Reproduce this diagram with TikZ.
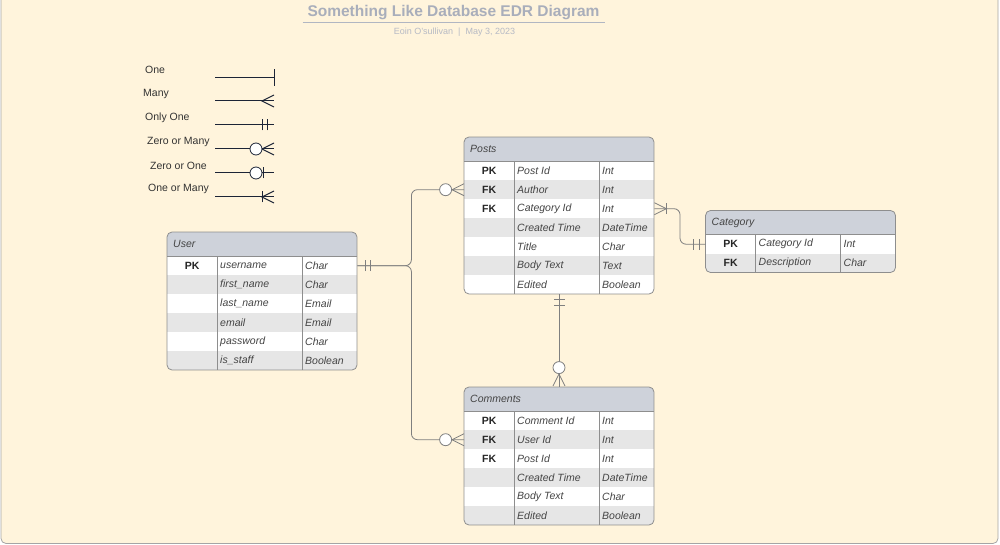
\documentclass[tikz,border=0pt]{standalone}
\usepackage{fontspec}
\setmainfont{Liberation Sans}
\usetikzlibrary{positioning}

\definecolor{kertas}{HTML}{FFF4DC}
\definecolor{tepi}{HTML}{8E8E8E}
\definecolor{kepala}{HTML}{CED2DA}
\definecolor{abu}{HTML}{E6E6E6}
\definecolor{garis}{HTML}{7F7F7F}
\definecolor{teks}{HTML}{444444}
\definecolor{judul}{HTML}{A9AEBB}
\definecolor{navy}{HTML}{1C2436}

\tikzset{
  x=1pt, y=-1pt,
  baris/.style={inner sep=0pt, minimum width=190pt, minimum height=19pt, anchor=north west},
  kunci/.style={inner sep=0pt, minimum width=50pt, font=\fontsize{10.5}{12}\selectfont\bfseries, text=black!85},
  isian/.style={inner sep=0pt, anchor=west, font=\fontsize{10.5}{12}\selectfont\itshape, text=teks},
  tautan/.style={draw=garis, line width=0.8pt},
  tautpic/.style={color=garis, line width=0.8pt},
  lingkaran/.style={circle, draw=garis, fill=white, line width=0.8pt, minimum size=12pt, inner sep=0pt},
  legenda/.style={anchor=west, inner sep=0pt, font=\fontsize{10.5}{12}\selectfont, text=black!80},
  palang/.pic={\draw (0,-5.5pt) -- (0,5.5pt);},
  cakar/.pic={\draw (12pt,6pt) -- (0,0) -- (12pt,-6pt);},
}

% tabel: #1 nama, #2 x, #3 y, #4 judul, #5 jumlah baris, #6 isi
\newcommand\tabelerd[6]{%
  \begin{scope}
    \clip[rounded corners=5pt] (#2,#3) rectangle ++(190,24+19*#5);
    \fill[kepala] (#2,#3) rectangle ++(190,24);
    \foreach \kk/\nm/\ty [count=\i] in {#6} {
      \ifodd\i\relax\def\warna{white}\else\def\warna{abu}\fi
      \node[baris, fill=\warna] (#1-\i) at (#2,{#3+24+19*(\i-1)}) {};
      \node[kunci, right=0pt of #1-\i.west] (#1-k\i) {\kk};
      \node[isian] (#1-n\i) at ([xshift=53pt]#1-\i.west) {\nm};
      \node[isian] (#1-t\i) at ([xshift=138pt]#1-\i.west) {\ty};
    }
  \end{scope}
  \node[isian] (#1-judul) at (#2+6,#3+12) {#4};
  \coordinate (#1-atas) at (#2+95,#3);
  \coordinate (#1-bawah) at (#2+95,#3+24+19*#5);
  \draw[tepi, line width=0.8pt] (#2+50,#3+24) -- ++(0,19*#5) (#2+135,#3+24) -- ++(0,19*#5) (#2,#3+24) -- ++(190,0);
  \draw[tepi, line width=0.8pt, rounded corners=5pt] (#2,#3) rectangle ++(190,24+19*#5);
}

\begin{document}
\begin{tikzpicture}
    \useasboundingbox (0,0) rectangle (1000,545);
    % latar
    \draw[fill=kertas, draw=tepi!80, line width=0.8pt, rounded corners=5pt] (1,-10) rectangle (998,543.5);

    % judul
    \node[font=\fontsize{15.5}{18}\selectfont\bfseries, text=judul, inner sep=0pt] (judul) at (453.5,12.5) {Something Like Database EDR Diagram};
    \draw[judul!90, line width=1.8pt] (302.5,22.5) -- (604.5,22.5);
    \node[font=\fontsize{9}{11}\selectfont, text=judul!85, inner sep=0pt] (penulis) at (454.5,32) {Eoin O'sullivan \ | \ May 3, 2023};

    % legenda
    \node[legenda] (lg-one) at (145,70) {One};
    \node[legenda] (lg-many) at (143,94) {Many};
    \node[legenda] (lg-only) at (145,117.5) {Only One};
    \node[legenda] (lg-zmany) at (147,141.5) {Zero or Many};
    \node[legenda] (lg-zone) at (150,166) {Zero or One};
    \node[legenda] (lg-omany) at (148,189) {One or Many};
    \begin{scope}[color=navy, line width=1pt]
      \draw (215,78) -- (274,78) (274,69.5) -- (274,86);
      \draw (215,101) -- (274,101); \pic at (262,101) {cakar};
      \draw (215,125) -- (274,125); \pic at (262,125) {palang}; \pic at (267,125) {palang};
      \draw (215,149) -- (274,149); \pic at (262,149) {cakar};
      \node[lingkaran, draw=navy] (lg-o1) at (256,149) {};
      \draw (215,173) -- (274,173); \pic at (263.5,173) {palang};
      \node[lingkaran, draw=navy] (lg-o2) at (256,173) {};
      \draw (215,197) -- (274,197); \pic at (262,197) {palang}; \pic at (262,197) {cakar};
    \end{scope}

    % tabel-tabel
    \tabelerd{user}{167}{232}{User}{6}{PK/username/Char, /first\_name/Char, /last\_name/Email, /email/Email, /password/Char, /is\_staff/Boolean}
    \tabelerd{posts}{464}{137}{Posts}{7}{PK/Post Id/Int, FK/Author/Int, FK/Category Id/Int, /Created Time/DateTime, /Title/Char, /Body Text/Text, /Edited/Boolean}
    \tabelerd{category}{705.5}{210.5}{Category}{2}{PK/Category Id/Int, FK/Description/Char}
    \tabelerd{comments}{464}{387}{Comments}{6}{PK/Comment Id/Int, FK/User Id/Int, FK/Post Id/Int, /Created Time/DateTime, /Body Text/Char, /Edited/Boolean}

    % relasi user ke posts dan comments
    \coordinate (simpul) at ([xshift=54pt]user-1.east);
    \draw[tautan, rounded corners=6pt] (user-1.east) -- (simpul) |- (posts-2.west);
    \draw[tautan, rounded corners=6pt] (user-1.east) -- (simpul) |- (comments-2.west);
    \pic[tautpic] at ([xshift=8pt]user-1.east) {palang};
    \pic[tautpic] at ([xshift=13pt]user-1.east) {palang};
    \node[lingkaran, left=12pt of posts-2.west] (o-posts) {};
    \pic[tautpic] at (o-posts.east) {cakar};
    \node[lingkaran, left=12pt of comments-2.west] (o-comm) {};
    \pic[tautpic] at (o-comm.east) {cakar};

    % relasi posts ke category
    \draw[tautan, rounded corners=6pt] (posts-3.east) -| ([xshift=-25.5pt]category-1.west) -- (category-1.west);
    \pic[tautpic, rotate=180] at ([xshift=12pt]posts-3.east) {cakar};
    \pic[tautpic] at ([xshift=12pt]posts-3.east) {palang};
    \pic[tautpic] at ([xshift=-12.5pt]category-1.west) {palang};
    \pic[tautpic] at ([xshift=-6.5pt]category-1.west) {palang};

    % relasi posts ke comments
    \draw[tautan] (posts-bawah) -- (comments-atas);
    \pic[tautpic, rotate=90] at ([yshift=-5.5pt]posts-bawah) {palang};
    \pic[tautpic, rotate=90] at ([yshift=-11.5pt]posts-bawah) {palang};
    \node[lingkaran, above=13pt of comments-atas] (o-kom) {};
    \pic[tautpic, rotate=-90] at (o-kom.south) {cakar};
\end{tikzpicture}
\end{document}
